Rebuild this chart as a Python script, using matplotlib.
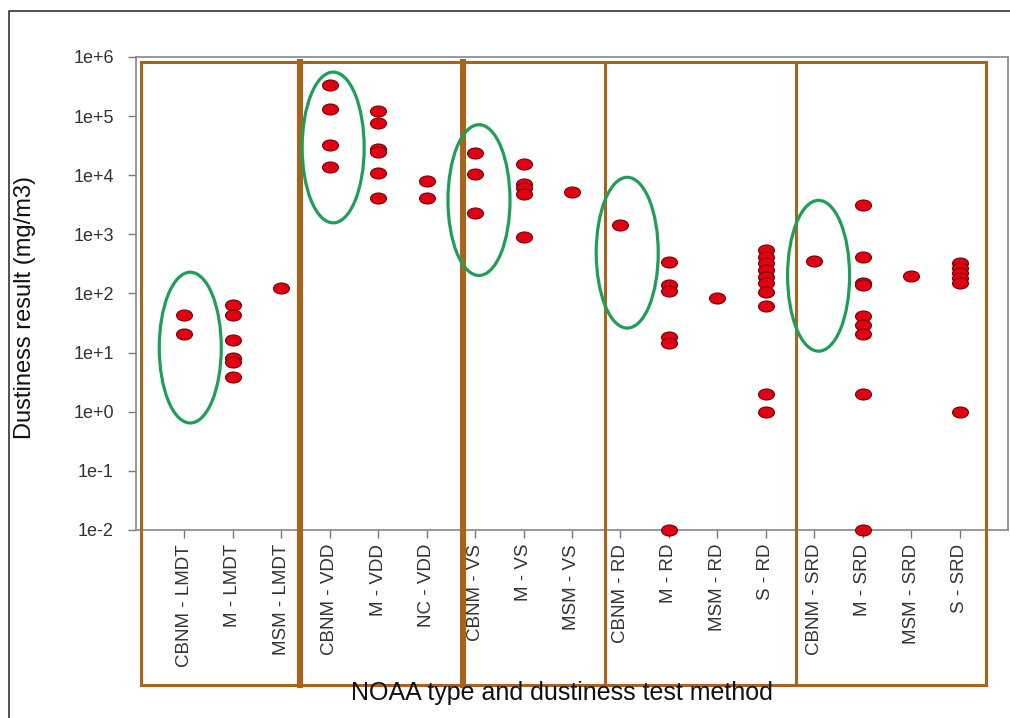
import matplotlib
matplotlib.use("Agg")
import matplotlib.pyplot as plt
import numpy as np
from matplotlib.path import Path
from matplotlib.patches import Ellipse
from matplotlib.lines import Line2D
import matplotlib.transforms as mtransforms

plt.rcParams['font.family'] = ['Liberation Sans', 'DejaVu Sans']

# NOAA type / test method categories
categories = [
    "CBNM - LMDT", "M - LMDT", "MSM - LMDT",
    "CBNM - VDD", "M - VDD", "NC - VDD",
    "CBNM - VS", "M - VS", "MSM - VS",
    "CBNM - RD", "M - RD", "MSM - RD", "S - RD",
    "CBNM - SRD", "M - SRD", "MSM - SRD", "S - SRD",
]

# Dustiness results (mg/m3) per category
cbnm_lmdt = [43, 21]
m_lmdt = [63, 43, 16.5, 8.1, 6.9, 3.9]
msm_lmdt = [122]
cbnm_vdd = [3.4e5, 1.3e5, 3.3e4, 1.37e4]
m_vdd = [1.22e5, 7.6e4, 2.8e4, 2.5e4, 1.1e4, 4.1e3]
nc_vdd = [8.0e3, 4.1e3]
cbnm_vs = [2.4e4, 1.05e4, 2.3e3]
m_vs = [1.55e4, 7.2e3, 6.0e3, 4.8e3, 890]
msm_vs = [5.2e3]
cbnm_rd = [1.43e3]
m_rd = [340, 138, 112, 18.3, 14.6, 0.01]
msm_rd = [83]
s_rd = [540, 413, 326, 249, 190, 150, 105, 61, 2.0, 1.0]
cbnm_srd = [355]
m_srd = [3.2e3, 420, 150, 138, 42, 29, 20.5, 2.0, 0.01]
msm_srd = [195]
s_srd = [325, 266, 219, 180, 148, 1.0]

series = [cbnm_lmdt, m_lmdt, msm_lmdt, cbnm_vdd, m_vdd, nc_vdd,
          cbnm_vs, m_vs, msm_vs, cbnm_rd, m_rd, msm_rd, s_rd,
          cbnm_srd, m_srd, msm_srd, s_srd]

y_ticks = [1e-2, 1e-1, 1e0, 1e1, 1e2, 1e3, 1e4, 1e5, 1e6]
y_tick_labels = ["1e-2", "1e-1", "1e+0", "1e+1", "1e+2", "1e+3", "1e+4", "1e+5", "1e+6"]

# Group frames (x in category units) and highlighted CBNM groups (x, log10 centre)
group_edges = [0.10, 3.39, 6.76, 9.69, 13.62, 17.54]
edge_widths = [2.2, 4.4, 4.4, 2.2, 2.2, 2.2]
highlight_centres = [(1.12, 1.085), (4.07, 4.47), (7.08, 3.58), (10.14, 2.69), (14.09, 2.30)]

brown = "#a9631a"
green = "#1f9e5a"

fig = plt.figure(figsize=(10.10, 7.18), dpi=100)
ax_rect = [136 / 1010, 1 - 530 / 718, (1008 - 136) / 1010, (530 - 57) / 718]
ax = fig.add_axes(ax_rect)

# elliptical dot marker
circ = Path.unit_circle()
dot = Path(circ.vertices * np.array([1.45, 1.0]), circ.codes)

xpos = np.arange(1, len(categories) + 1)
for x, vals in zip(xpos, series):
    ax.plot([x] * len(vals), vals, linestyle="none", marker=dot, markersize=11.5,
            markerfacecolor="#e00012", markeredgecolor="#7a0008", markeredgewidth=0.8,
            clip_on=False, zorder=5)

ax.set_yscale("log")
ax.set_ylim(1e-2, 1e6)
ax.set_xlim(0, 18)
ax.set_yticks(y_ticks)
ax.set_yticklabels(y_tick_labels)
ax.yaxis.set_minor_locator(matplotlib.ticker.NullLocator())
ax.set_xticks(xpos)
ax.set_xticklabels(categories, rotation=90, va="top", ha="center")
ax.tick_params(axis="both", direction="out", length=6, width=1, color="#777777",
               labelcolor="#333333")
ax.tick_params(axis="y", labelsize=13, pad=10)
ax.tick_params(axis="x", labelsize=13.5, pad=4)
for s in ax.spines.values():
    s.set_color("#888888")
    s.set_linewidth(1.2)

ax.set_ylabel("Dustiness result (mg/m3)", fontsize=17, color="#111111")
ax.yaxis.set_label_coords(-0.115, 0.471)
fig.text(562 / 1010, 1 - 693 / 718, "NOAA type and dustiness test method",
         ha="center", va="center", fontsize=18, color="#111111")

# brown group frames, extending below the axis into the label area
trans = mtransforms.blended_transform_factory(ax.transData, ax.transAxes)
y_top, y_bot = 0.989, -0.328
ax.add_line(Line2D([group_edges[0], group_edges[-1]], [y_top, y_top], transform=trans,
                   color=brown, lw=2.2, clip_on=False, zorder=3))
ax.add_line(Line2D([group_edges[0], group_edges[-1]], [y_bot, y_bot], transform=trans,
                   color=brown, lw=2.2, clip_on=False, zorder=3))
for gx, lw in zip(group_edges, edge_widths):
    ax.add_line(Line2D([gx, gx], [y_bot, y_top], transform=trans, color=brown, lw=lw,
                       clip_on=False, zorder=3, solid_capstyle="projecting"))

# green ellipses drawn in log10 units on a matching overlay
ov = fig.add_axes(ax_rect, frameon=False)
ov.set_xlim(0, 18)
ov.set_ylim(-2, 6)
ov.axis("off")
for cx, cy in highlight_centres:
    ov.add_patch(Ellipse((cx, cy), 1.28, 2.55, fill=False, edgecolor=green, lw=2.3))

# outer frame
fig.add_artist(Line2D([9 / 1010, 9 / 1010, 1.0], [0.0, 1 - 11 / 718, 1 - 11 / 718],
                      transform=fig.transFigure, color="#333333", lw=1.2))

fig.savefig("out.png", dpi=100)
